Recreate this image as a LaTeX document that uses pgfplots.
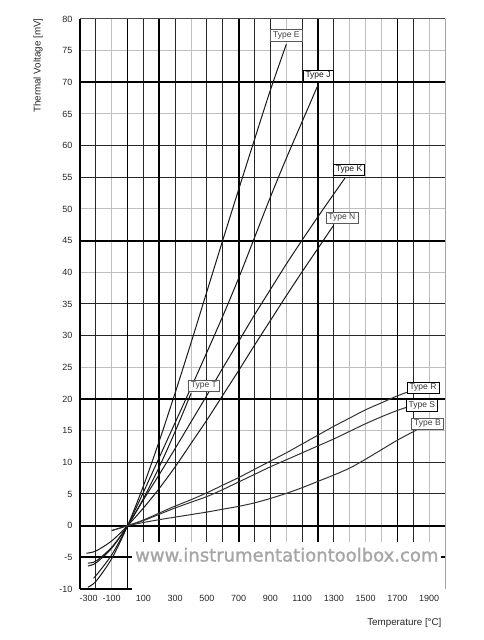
\documentclass[border=0pt]{standalone}
\usepackage{pgfplots}
\pgfplotsset{compat=1.18}
\usepackage{fontspec}
\setmainfont{Liberation Sans}
\newfontfamily\wmfont[FakeBold=1.3]{DejaVu Sans}
\tikzset{
  lbl/.style={draw=black, fill=white, font=\fontsize{8.5}{10}\selectfont, inner xsep=2.5pt, inner ysep=2pt, line width=0.6pt},
  lblg/.style={lbl, draw=gray!70!black, text=black!75},
  curve/.style={black!90, line width=1pt},
  curveg/.style={black!80, line width=1pt},
  thickgrid/.style={black, line width=1.7pt},
}
\begin{document}
\begin{tikzpicture}
\useasboundingbox (-80pt,-51pt) rectangle (403pt,589pt);
\begin{axis}[
  scale only axis, width=365pt, height=570pt,
  xmin=-300, xmax=2000, ymin=-10, ymax=80,
  clip=false,
  axis line style={draw=none},
  /pgf/number format/assume math mode=true,
  xtick={-245,-100,100,300,500,700,900,1100,1300,1500,1700,1900},
  xticklabels={-300,-100,100,300,500,700,900,1100,1300,1500,1700,1900},
  ytick={-10,-5,...,80},
  major tick length=0pt, minor tick length=0pt,
  tick style={draw=none},
  minor xtick={-100,400,1000,1400,1500,1600,1900},
  minor ytick={15,25,40,50,65,75},
  xminorgrids=true, yminorgrids=true,
  minor grid style={gray!50, line width=1pt},
  extra x ticks={-200,100,300,500,600,800,900,1100,1300,1800},
  extra x tick labels={},
  extra x tick style={grid=major, major grid style={black!85, line width=1pt}},
  extra y ticks={5,10,30,35,55,60},
  extra y tick labels={},
  extra y tick style={grid=major, major grid style={black!85, line width=1pt}},
  xticklabel style={font=\fontsize{9}{10}\selectfont, text=black!85, yshift=-3pt},
  yticklabel style={font=\fontsize{9}{10}\selectfont, text=black!85, xshift=-4pt},
  xlabel={Temperature [°C]},
  ylabel={Thermal Voltage [mV]},
  xlabel style={font=\fontsize{9.8}{11}\selectfont, text=black!85, at={(axis description cs:1,-0.059)}, anchor=east},
  ylabel style={font=\fontsize{9.8}{11}\selectfont, text=black!85, at={(axis description cs:-0.115,1.007)}, anchor=east},
]
% heavy grid lines
\addplot[thickgrid] coordinates {(0,-10) (0,80)};
\addplot[thickgrid] coordinates {(200,-10) (200,80)};
\addplot[thickgrid] coordinates {(700,-10) (700,80)};
\addplot[thickgrid] coordinates {(1200,-10) (1200,80)};
\addplot[thickgrid] coordinates {(1700,-10) (1700,80)};
\addplot[thickgrid] coordinates {(-300,-5) (2000,-5)};
\addplot[thickgrid] coordinates {(-300,0) (2000,0)};
\addplot[thickgrid] coordinates {(-300,20) (2000,20)};
\addplot[thickgrid] coordinates {(-300,45) (2000,45)};
\addplot[thickgrid] coordinates {(-300,70) (2000,70)};
% white band behind the watermark
\addplot[fill=white, draw=none] coordinates {(30,-2.5) (1975,-2.5) (1975,-10) (30,-10)} -- cycle;
% frame
\addplot[black, line width=1.2pt] coordinates {(-300,-10) (-300,80)};
\addplot[black!70, line width=1pt] coordinates {(-300,80) (2000,80)};
\addplot[gray!70, line width=1pt] coordinates {(2000,80) (2000,-10)};
\addplot[black, line width=1.2pt] coordinates {(-300,-10) (30,-10)};
% curves
\addplot[curve, smooth] coordinates {(-250,-9.7) (-200,-8.8) (-100,-5.2) (0,0) (100,6.3) (200,13.4) (300,21.0) (400,28.9) (500,37.0) (600,45.1) (700,53.1) (800,61.0) (900,68.8) (1000,76.0)}
  node[pos=1, lblg, anchor=south, yshift=3pt] {Type E};
\addplot[curve, smooth] coordinates {(-210,-8.1) (-200,-7.9) (-100,-4.6) (0,0) (100,5.3) (200,10.8) (300,16.3) (400,21.8) (500,27.4) (600,33.1) (700,39.1) (800,45.5) (900,51.9) (1000,58.0) (1100,63.8) (1200,69.6)}
  node[pos=1, lbl, anchor=south, yshift=3pt] {Type J};
\addplot[curve, smooth] coordinates {(-250,-6.35) (-200,-5.9) (-100,-3.55) (0,0) (100,4.1) (200,8.1) (300,12.2) (400,16.4) (500,20.6) (600,24.9) (700,29.1) (800,33.3) (900,37.3) (1000,41.3) (1100,45.1) (1200,48.8) (1300,52.4) (1370,54.9)}
  node[pos=1, lbl, anchor=south, xshift=4pt, yshift=2pt] {Type K};
\addplot[curve, smooth] coordinates {(-260,-4.35) (-200,-4.0) (-100,-2.4) (0,0) (100,2.8) (200,5.9) (300,9.3) (400,13.0) (500,16.7) (600,20.6) (700,24.5) (800,28.5) (900,32.4) (1000,36.3) (1100,40.1) (1200,43.8) (1300,47.5)}
  node[pos=1, lblg, anchor=south, xshift=8pt, yshift=1pt] {Type N};
\addplot[curve, smooth] coordinates {(-250,-5.9) (-200,-5.6) (-100,-3.4) (0,0) (100,4.3) (200,9.3) (300,14.9) (400,20.9)}
  node[pos=1, lblg, anchor=south west, xshift=-3pt, yshift=1.5pt] {Type T};
\addplot[curveg, smooth] coordinates {(-100,-0.75) (0,0) (100,0.9) (200,2.0) (300,3.1) (400,4.1) (500,5.2) (600,6.4) (700,7.6) (800,8.9) (900,10.2) (1000,11.5) (1100,12.9) (1200,14.3) (1300,15.7) (1400,17.0) (1500,18.3) (1600,19.4) (1700,20.5) (1765,21.1)}
  node[pos=1, lbl, anchor=south west, xshift=-1pt, yshift=-2pt] {Type R};
\addplot[curveg, smooth] coordinates {(-100,-0.8) (0,0) (100,0.8) (200,1.8) (300,2.8) (400,3.7) (500,4.6) (600,5.7) (700,6.9) (800,8.1) (900,9.3) (1000,10.4) (1100,11.5) (1200,12.6) (1300,13.7) (1400,14.9) (1500,16.1) (1600,17.2) (1700,18.2) (1760,18.7)}
  node[pos=1, lbl, anchor=south west, xshift=-1pt, yshift=-4pt] {Type S};
\addplot[curveg, smooth] coordinates {(0,0) (100,0.5) (200,0.95) (300,1.35) (400,1.75) (500,2.15) (600,2.6) (700,3.05) (800,3.6) (900,4.3) (1000,5.1) (1100,6.0) (1200,7.0) (1300,8.0) (1400,9.1) (1500,10.5) (1600,12.0) (1700,13.5) (1820,15.1)}
  node[pos=1, lblg, anchor=south west, xshift=-5pt] {Type B};
% watermark
\node[text=gray!70, font=\wmfont\fontsize{18}{20}\selectfont] at (axis cs:1003,-4.6) {www.instrumentationtoolbox.com};
\end{axis}
\end{tikzpicture}
\end{document}
